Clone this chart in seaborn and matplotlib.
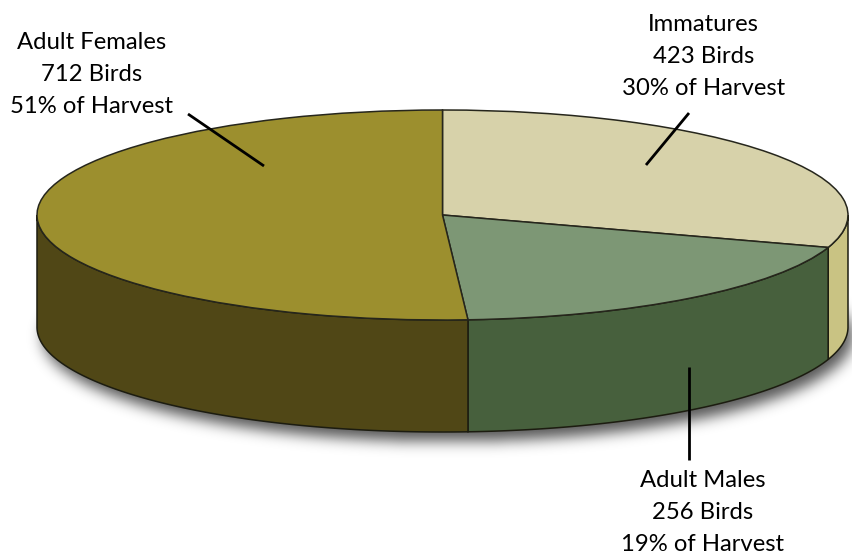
import numpy as np
import pandas as pd
import seaborn as sns
import matplotlib.pyplot as plt

groups = ["Immatures", "Adult Males", "Adult Females"]
birds = [423, 256, 712]
shares = [30, 19, 51]
top_colors = ["#D7D2AA", "#7D9775", "#9C8F2E"]
wall_colors = ["#C9C383", "#47603D", "#504716"]

# pie geometry in image pixels
cx, cy, rx, ry, depth = 442.5, 215, 405.5, 105, 112


def to_x(px):
    return (np.asarray(px, dtype=float) - cx) / rx


def to_y(py):
    return (cy - np.asarray(py, dtype=float)) / ry


sns.set_theme(style="white")
plt.rcParams["font.family"] = ["Lato", "DejaVu Sans"]

fig = plt.figure(figsize=(8.53, 5.56), dpi=100)
ax = fig.add_axes([0, 0, 1, 1])

drop = depth / ry

# soft shadow under the cylinder, a blurred ellipse
xx, yy = np.meshgrid(np.arange(853), np.arange(556))
mask = (((xx - cx - 5) / rx) ** 2 + ((yy - cy - depth - 9) / ry) ** 2 <= 1).astype(float)
kernel = np.exp(-0.5 * (np.arange(-21, 22) / 7.0) ** 2)
kernel /= kernel.sum()
mask = np.apply_along_axis(np.convolve, 0, mask, kernel, mode="same")
mask = np.apply_along_axis(np.convolve, 1, mask, kernel, mode="same")
shadow = np.zeros((556, 853, 4))
shadow[..., 3] = mask * 0.66
ax.imshow(
    shadow,
    extent=(to_x(0), to_x(853), to_y(556), to_y(0)),
    aspect="auto",
    zorder=0.5,
)

# side walls, only the front half of each slice shows
fracs = np.array(shares) / sum(shares)
edges = np.pi / 2 - 2 * np.pi * np.concatenate([[0], np.cumsum(fracs)])
for start, end, color in zip(edges[:-1], edges[1:], wall_colors):
    a = np.linspace(start, end, 400)
    a = a[(a <= 0) & (a >= -np.pi)]
    if len(a) < 2:
        continue
    xs = np.cos(a)
    ys = np.sin(a)
    ax.fill(
        np.concatenate([xs, xs[::-1]]),
        np.concatenate([ys, ys[::-1] - drop]),
        facecolor=color,
        edgecolor="#1c1c10",
        lw=1.1,
        zorder=1,
    )

# the top face
ax.pie(
    shares,
    colors=top_colors,
    startangle=90,
    counterclock=False,
    radius=1,
    center=(0, 0),
    wedgeprops={"edgecolor": "#26261c", "linewidth": 1.1, "zorder": 2},
)
ax.set_aspect("auto")
ax.set_xlim(to_x(0), to_x(853))
ax.set_ylim(to_y(556), to_y(0))
ax.axis("off")

# leader lines
leaders = pd.DataFrame(
    {
        "group": ["Adult Females"] * 2 + ["Immatures"] * 2 + ["Adult Males"] * 2,
        "x": to_x([188, 264, 689, 646, 689, 689]),
        "y": to_y([114, 166, 113, 165, 367, 460]),
    }
)
for name, part in leaders.groupby("group"):
    sns.lineplot(
        data=part,
        x="x",
        y="y",
        ax=ax,
        color="black",
        lw=2,
        sort=False,
        estimator=None,
        zorder=3,
        solid_capstyle="butt",
    )

ax.set_xlabel("")
ax.set_ylabel("")

# centre x and first baseline of each label
label_pos = {
    "Adult Females": (91.5, 49),
    "Immatures": (703.5, 31),
    "Adult Males": (702.5, 487),
}
for name, n, pct in zip(groups, birds, shares):
    px, py = label_pos[name]
    for i, line in enumerate([name, f"{n} Birds", f"{pct}% of Harvest"]):
        ax.text(
            to_x(px),
            to_y(py + i * 32),
            line,
            ha="center",
            va="baseline",
            fontsize=17.2,
            color="black",
            zorder=4,
        )

plt.savefig("out.png", dpi=100)
